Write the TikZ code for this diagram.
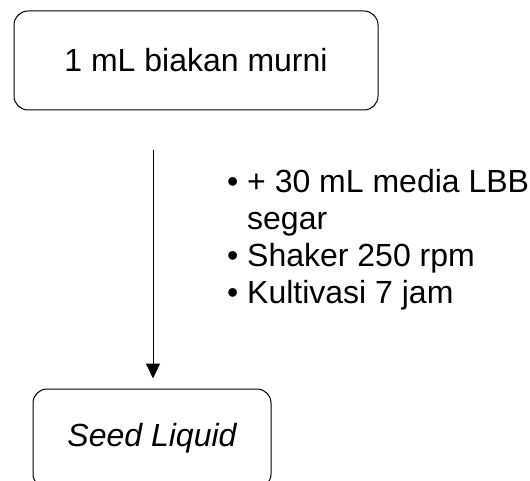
\documentclass[tikz,border=0pt]{standalone}
\usepackage{fontspec}
\setmainfont{Liberation Sans}
\usepackage{tikz}
\usetikzlibrary{arrows.meta}
\usetikzlibrary{positioning}

\tikzset{
  kotak/.style={draw=black, line width=1pt, rounded corners=14pt, inner sep=0pt},
  panah/.style={line width=1pt, -{Triangle[width=14pt,length=15pt]}},
}

\begin{document}
\begin{tikzpicture}[x=1pt, y=-1pt]
      \useasboundingbox (0,0) rectangle (530,481);
      % kotak atas dan bawah
      \node[kotak, minimum width=364pt, minimum height=99pt, font=\fontsize{32}{38}\selectfont] (biakan) at (196,60.5) {1 mL biakan murni};
      \node[kotak, minimum width=238pt, minimum height=99pt, font=\fontsize{32}{38}\selectfont\itshape] (seed) at (152,438.5) {Seed Liquid};
      % keterangan proses
      \node[anchor=north west, inner sep=0pt, font=\fontsize{32}{37}\selectfont] (proses) at (227,166)
        {\begin{tabular}{@{}p{20pt}@{}l@{}}
          • & + 30 mL media LBB\\
            & segar\\
          • & Shaker 250 rpm\\
          • & Kultivasi 7 jam
        \end{tabular}};
      \coordinate (mulai) at (153,150);
      \draw[panah, shorten >=10pt] (mulai) -- (mulai |- seed.north);
\end{tikzpicture}
\end{document}
